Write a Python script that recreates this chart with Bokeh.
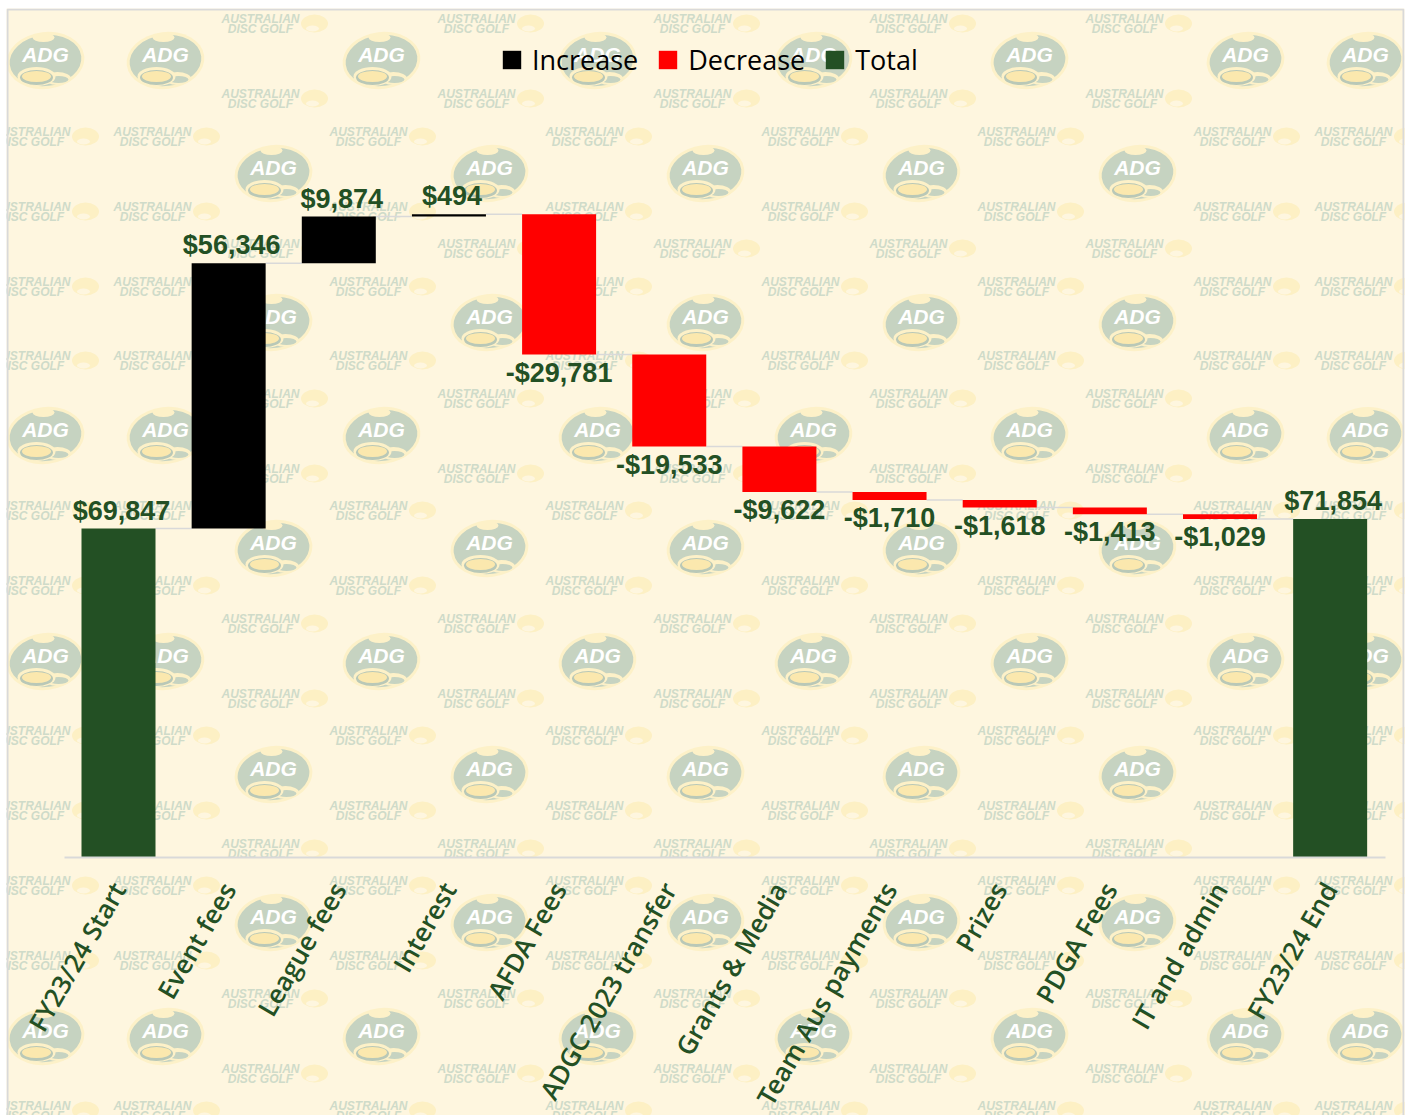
from bokeh.plotting import figure
from bokeh.embed import file_html
from bokeh.resources import INLINE
from bokeh.core.properties import value
from bokeh.models import (ColumnDataSource, Range1d, LinearAxis, FixedTicker, Legend, LegendItem)

categories = ["FY23/24 Start", "Event fees", "League fees", "Interest", "AFDA Fees",
              "ADGC 2023 transfer", "Grants & Media", "Team Aus payments", "Prizes",
              "PDGA Fees", "IT and admin", "FY23/24 End"]
amounts = [69847, 56346, 9874, 494, -29781, -19533, -9622, -1710, -1618, -1413, -1029, 71854]
kinds = ["Total", "Increase", "Increase", "Increase", "Decrease", "Decrease", "Decrease",
         "Decrease", "Decrease", "Decrease", "Decrease", "Total"]
labels = ["$69,847", "$56,346", "$9,874", "$494", "-$29,781", "-$19,533", "-$9,622",
          "-$1,710", "-$1,618", "-$1,413", "-$1,029", "$71,854"]
colors = {"Increase": "#000000", "Decrease": "#ff0000", "Total": "#235024"}

# watermark tile rows (page pixels)
logo_cols_a = [45, 165, 381, 597, 813, 1029, 1245, 1365]
logo_cols_b = [273, 489, 705, 921, 1137]
logo_rows_a = [60, 435, 661, 1036]
logo_rows_b = [173, 322, 548, 774, 922]
word_cols_a = [152, 368, 584, 800, 1016, 1232, 1353, 31]
word_cols_b = [260, 476, 692, 908, 1124]
word_rows_a = [136, 211, 286, 360, 510, 585, 735, 810, 885, 960, 1110]
word_rows_b = [23, 98, 248, 398, 473, 623, 698, 848, 998, 1073]

W, H = 1409, 1115
LEFT, TOP, RIGHT = 6, 8, 1404   # frame edges on the page
FW, FH = RIGHT - LEFT, H - TOP
PX = 110.15      # pixels per category
K = 0.00471      # pixels per dollar
X0, Y0 = 118 - LEFT, 857 - TOP  # first category centre and zero line in frame pixels

p = figure(width=W, height=H, output_backend="svg", toolbar_location=None,
           x_range=Range1d(-X0 / PX, (FW - X0) / PX),
           y_range=Range1d(-(FH - Y0) / K, Y0 / K),
           min_border=0, min_border_left=LEFT, min_border_right=W - RIGHT, min_border_top=TOP, min_border_bottom=0,
           x_axis_type=None, y_axis_type=None,
           background_fill_color="#fef6df", border_fill_color="#ffffff",
           outline_line_color=None)
p.grid.visible = False
p.extra_x_ranges["px"] = Range1d(LEFT, RIGHT)
p.extra_y_ranges["px"] = Range1d(H, TOP)
PXR = dict(x_range_name="px", y_range_name="px")

# ---- watermark -------------------------------------------------------------
lx = [x for y in logo_rows_a for x in logo_cols_a] + [x for y in logo_rows_b for x in logo_cols_b]
ly = [y for y in logo_rows_a for x in logo_cols_a] + [y for y in logo_rows_b for x in logo_cols_b]
wx = [x for y in word_rows_a for x in word_cols_a] + [x for y in word_rows_b for x in word_cols_b]
wy = [y for y in word_rows_a for x in word_cols_a] + [y for y in word_rows_b for x in word_cols_b]

def shift(vals, d):
    return [v + d for v in vals]

tilt = 0.12
p.ellipse(lx, ly, width=78, height=57, angle=tilt, width_units="screen", height_units="screen",
          fill_color="#fdf1c8", line_color=None, **PXR)
p.ellipse(lx, ly, width=72, height=51, angle=tilt, width_units="screen", height_units="screen",
          fill_color="#c6d3c1", line_color=None, **PXR)
p.ellipse(shift(lx, -2), shift(ly, -23), width=22, height=9, width_units="screen", height_units="screen",
          fill_color="#fdf1c8", line_color=None, **PXR)
p.ellipse(shift(lx, 12), shift(ly, 18), width=27, height=13, width_units="screen", height_units="screen",
          fill_color="#fdf1c8", line_color=None, **PXR)
p.ellipse(shift(lx, 13), shift(ly, 19), width=20, height=7, width_units="screen", height_units="screen",
          fill_color="#c6d3c1", line_color=None, **PXR)
p.ellipse(shift(lx, -9), shift(ly, 16), width=38, height=19, width_units="screen", height_units="screen",
          fill_color="#fdf1c8", line_color=None, **PXR)
p.ellipse(shift(lx, -9), shift(ly, 17), width=33, height=15, width_units="screen", height_units="screen",
          fill_color="#b9c8b7", line_color=None, **PXR)
p.ellipse(shift(lx, -9), shift(ly, 16), width=29, height=11, width_units="screen", height_units="screen",
          fill_color="#fbe8ae", line_color=None, **PXR)
p.text(lx, shift(ly, -6), text=["ADG"] * len(lx), text_color="#ffffff", text_align="center",
       text_baseline="middle", text_font=value("Liberation Sans"), text_font_style="bold italic",
       text_font_size="21px", **PXR)

p.text(wx, shift(wy, -5), text=["AUSTRALIAN"] * len(wx), text_color="#cfdbc9", text_align="center",
       text_baseline="middle", text_font=value("Liberation Sans"), text_font_style="bold italic",
       text_font_size="12px", **PXR)
p.text(wx, shift(wy, 5), text=["DISC GOLF"] * len(wx), text_color="#cfdbc9", text_align="center",
       text_baseline="middle", text_font=value("Liberation Sans"), text_font_style="bold italic",
       text_font_size="12px", **PXR)
p.ellipse(shift(wx, 54), wy, width=27, height=18, width_units="screen", height_units="screen",
          fill_color="#fdf0c4", line_color=None, **PXR)
p.ellipse(shift(wx, 52), shift(wy, 5), width=13, height=6, width_units="screen", height_units="screen",
          fill_color="#fef6df", line_color=None, **PXR)

# chart border: left, top and right edges only
p.line([LEFT + 1, LEFT + 1, RIGHT - 1, RIGHT - 1], [H, TOP + 1, TOP + 1, H],
       line_color="#d9d9d9", line_width=2, **PXR)

# ---- waterfall -------------------------------------------------------------
idx = list(range(len(categories)))
bottoms, tops, levels = [], [], []
running = 0
for a, k in zip(amounts, kinds):
    if k == "Total":
        bottoms.append(0); tops.append(a); running = a
    else:
        bottoms.append(min(running, running + a)); tops.append(max(running, running + a)); running += a
    levels.append(running)

p.segment([i + 0.336 for i in idx[:-1]], levels[:-1], [i + 0.664 for i in idx[:-1]], levels[:-1],
          line_color="#d9d9d9", line_width=1.5)

renderers = {}
for kind in ["Increase", "Decrease", "Total"]:
    sel = [i for i in idx if kinds[i] == kind]
    src = ColumnDataSource(dict(x=sel, top=[tops[i] for i in sel], bottom=[bottoms[i] for i in sel]))
    renderers[kind] = p.vbar(x="x", top="top", bottom="bottom", width=74 / PX, source=src,
                             fill_color=colors[kind], line_color=None)

# data labels
pos = [i for i in idx if amounts[i] >= 0]
neg = [i for i in idx if amounts[i] < 0]
common = dict(text_color="#235024", text_font=value("Liberation Sans"), text_font_style="bold",
              text_font_size="27px", text_align="center", text_baseline="middle")
p.text([idx[i] for i in pos], [tops[i] for i in pos], text=[labels[i] for i in pos],
       x_offset=3, y_offset=-18, **common)
p.text([idx[i] for i in neg], [bottoms[i] for i in neg], text=[labels[i] for i in neg],
       x_offset=0, y_offset=18, **common)

# ---- category axis ---------------------------------------------------------
axis = LinearAxis(fixed_location=0, ticker=FixedTicker(ticks=idx),
                  major_label_overrides={i: c for i, c in enumerate(categories)},
                  major_label_orientation=1.0472,
                  major_label_text_font="Open Sans SemiBold, Open Sans", major_label_text_font_size="26px",
                  major_label_text_color="#235024", major_label_standoff=21,
                  major_tick_line_color=None, minor_tick_line_color=None,
                  axis_line_color="#d9d9d9", axis_line_width=2,
                  bounds=(-54 / PX, 1267 / PX))
p.add_layout(axis, "below")

# ---- legend ----------------------------------------------------------------
legend = Legend(items=[LegendItem(label=k, renderers=[renderers[k]]) for k in ["Increase", "Decrease", "Total"]],
                orientation="horizontal", location=(499 - LEFT + 1, FH - 70), background_fill_alpha=0,
                border_line_color=None, glyph_width=23, glyph_height=23, label_standoff=9, spacing=18,
                label_text_font="Open Sans", label_text_font_size="27px", label_text_color="#000000",
                margin=0, padding=0)
p.add_layout(legend, "center")

open("out.html", "w").write(file_html(p, INLINE))
